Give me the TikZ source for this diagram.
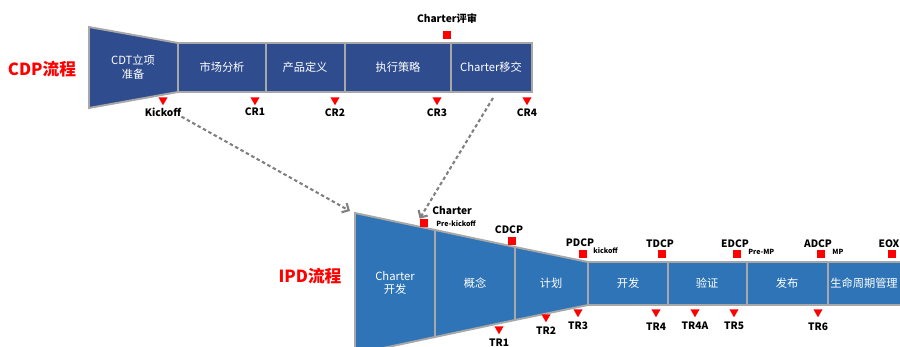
\documentclass[tikz,border=0pt]{standalone}
\usepackage{fontspec}
\setmainfont{Noto Sans CJK SC}
\usetikzlibrary{shapes.geometric,arrows.meta}
\definecolor{cdpblue}{HTML}{2F4D8E}
\definecolor{ipdblue}{HTML}{2E74B6}
\definecolor{edgegray}{HTML}{A8A8A8}
\begin{document}
\begin{tikzpicture}[x=0.02cm,y=-0.02cm,
		cdp/.style={fill=cdpblue,draw=edgegray,line width=1.1pt},
		ipd/.style={fill=ipdblue,draw=edgegray,line width=1.1pt},
		phase/.style={text=white,font=\fontsize{6.4}{7.8}\selectfont,align=center},
		gate/.style={regular polygon,regular polygon sides=3,shape border rotate=180,fill=red,inner sep=0pt,minimum size=0.21cm},
		dcp/.style={rectangle,fill=red,inner sep=0pt,minimum size=0.16cm},
		lbl/.style={font=\bfseries\fontsize{5.8}{7}\selectfont,inner sep=0pt},
		note/.style={font=\bfseries\fontsize{4}{5}\selectfont,inner sep=0pt,anchor=west},
		flow/.style={text=red,font=\bfseries\fontsize{9.5}{11}\selectfont},
		link/.style={draw=gray,line width=1.2pt,dash pattern=on 2pt off 1.5pt,-{Straight Barb[length=3pt,width=6pt]}}]
	\useasboundingbox (0,0) rectangle (900,347);
	\begin{scope}
		\clip (0,0) rectangle (900,347);
		\draw [cdp] (89,27) -- (178,43) -- (178,92) -- (89,108) -- cycle;
		\draw [cdp] (178,43) rectangle (266,92);
		\draw [cdp] (266,43) rectangle (345,92);
		\draw [cdp] (345,43) rectangle (451,92);
		\draw [cdp] (451,43) rectangle (532,92);
		\node (cdt) [phase] at (133,67) {CDT立项\\准备};
		\node (mkt) [phase] at (222,67) {市场分析};
		\node (def) [phase] at (305,67) {产品定义};
		\node (exe) [phase] at (398,67) {执行策略};
		\node (hand) [phase] at (491,67) {Charter移交};
		\node (cdpname) [flow] at (42,69) {CDP流程};

		\node (kicktri) [gate] at (163,100) {};
		\node (kick) [lbl] at (163,112) {Kickoff};
		\node (cr1tri) [gate] at (255,100) {};
		\node (cr1) [lbl] at (255,112) {CR1};
		\node (cr2tri) [gate] at (335,100) {};
		\node (cr2) [lbl] at (335,113) {CR2};
		\node (cr3tri) [gate] at (437,100) {};
		\node (cr3) [lbl] at (437,113) {CR3};
		\node (cr4tri) [gate] at (527,100) {};
		\node (cr4) [lbl] at (527,113) {CR4};
		\node (revsq) [dcp] at (447,35) {};
		\node (rev) [lbl] at (447,19) {Charter评审};

		\draw [ipd] (355,213) -- (435,230) -- (435,337) -- (355,354) -- cycle;
		\draw [ipd] (435,230) -- (515,247) -- (515,320) -- (435,337) -- cycle;
		\draw [ipd] (515,247) -- (588,262) -- (588,305) -- (515,320) -- cycle;
		\draw [ipd] (588,262) rectangle (668,305);
		\draw [ipd] (668,262) rectangle (747,305);
		\draw [ipd] (747,262) rectangle (828,305);
		\draw [ipd] (828,262) rectangle (912,305);
		\node (chdev) [phase] at (395,283) {Charter\\开发};
		\node (concept) [phase] at (475,283) {概念};
		\node (plan) [phase] at (551,283) {计划};
		\node (dev) [phase] at (628,283) {开发};
		\node (verify) [phase] at (707,283) {验证};
		\node (launch) [phase] at (787,283) {发布};
		\node (life) [phase,inner sep=1pt] at (864,283) {生命周期管理};
		\node (ipdname) [flow] at (310,276) {IPD流程};

		\node (chsq) [dcp] at (424,223) {};
		\node (ch) [lbl,anchor=west] at (432,211) {Charter};
		\node (prek) [note] at (436,224) {Pre-kickoff};
		\node (cdcpsq) [dcp] at (512,241) {};
		\node (cdcp) [lbl] at (509,230) {CDCP};
		\node (pdcpsq) [dcp] at (583,254) {};
		\node (pdcp) [lbl] at (580,243) {PDCP};
		\node (kickon) [note] at (593,251) {kickoff};
		\node (tdcpsq) [dcp] at (662,254) {};
		\node (tdcp) [lbl] at (660,244) {TDCP};
		\node (edcpsq) [dcp] at (737,254) {};
		\node (edcp) [lbl] at (735,244) {EDCP};
		\node (premp) [note] at (748,252) {Pre-MP};
		\node (adcpsq) [dcp] at (821,254) {};
		\node (adcp) [lbl] at (818,244) {ADCP};
		\node (mp) [note] at (832,252) {MP};
		\node (eoxsq) [dcp] at (892,254) {};
		\node (eox) [lbl] at (889,244) {EOX};

		\node (tr1tri) [gate] at (499,329) {};
		\node (tr1) [lbl] at (499,343) {TR1};
		\node (tr2tri) [gate] at (546,317) {};
		\node (tr2) [lbl] at (546,331) {TR2};
		\node (tr3tri) [gate] at (578,312) {};
		\node (tr3) [lbl] at (578,326) {TR3};
		\node (tr4tri) [gate] at (656,312) {};
		\node (tr4) [lbl] at (656,327) {TR4};
		\node (tr4atri) [gate] at (695,312) {};
		\node (tr4a) [lbl] at (695,326) {TR4A};
		\node (tr5tri) [gate] at (734,312) {};
		\node (tr5) [lbl] at (734,326) {TR5};
		\node (tr6tri) [gate] at (818,312) {};
		\node (tr6) [lbl] at (818,327) {TR6};

		\coordinate (ipdtop) at (350,211);
		\coordinate (handoff) at (493,98);
		\draw [link] (kick.south east) -- (ipdtop);
		\draw [link] (handoff) -- (chsq.north west);
	\end{scope}
\end{tikzpicture}
\end{document}
